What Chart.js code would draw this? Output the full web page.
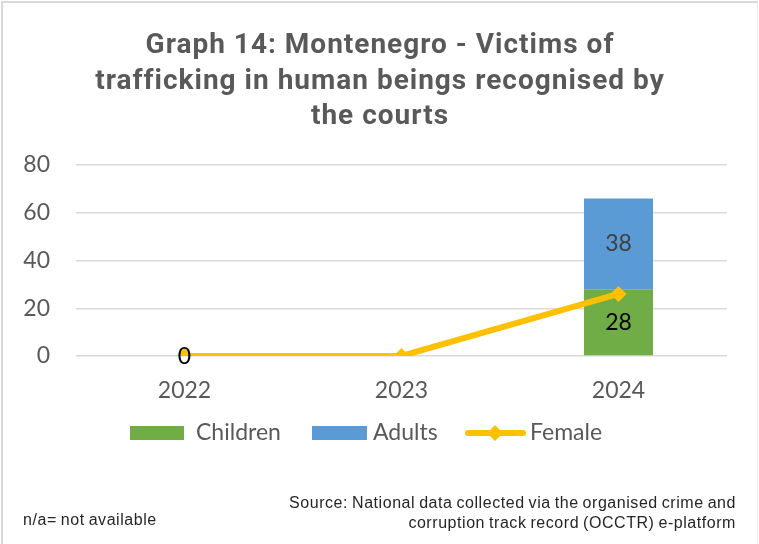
<!DOCTYPE html>
<html>
<head>
<meta charset="utf-8">
<script src="https://cdn.jsdelivr.net/npm/chart.js@4.4.1/dist/chart.umd.min.js"></script>
<style>
  html, body { margin: 0; padding: 0; background: #fff; }
  #wrap { position: relative; width: 759px; height: 544px; overflow: hidden; }
  #frame { position: absolute; left: 1px; top: 1px; width: 757px; height: 560px;
           border-left: 2px solid #d9d9d9; border-top: 2px solid #d9d9d9; border-right: 1px solid #ececec;
           box-sizing: border-box; pointer-events: none; }
  canvas { position: absolute; left: 0; top: 0; }
  .note { position: absolute; font-family: "Liberation Sans", Arial, sans-serif;
          font-size: 16px; letter-spacing: 0.55px; word-spacing: -1px; color: #262626; line-height: 20px; white-space: nowrap; }
</style>
</head>
<body>
<div id="wrap">
  <canvas id="c" width="759" height="544"></canvas>
  <div id="frame"></div>
  <div class="note" style="left:23px; top:510px;">n/a= not available</div>
  <div class="note" style="right:23px; top:493px; text-align:right;">Source: National data collected via the organised crime and<br>corruption track record (OCCTR) e-platform</div>
</div>
<script>
const titleLines = ["Graph 14: Montenegro - Victims of", "trafficking in human beings recognised by", "the courts"];
const years = ["2022", "2023", "2024"];
const children = [0, 0, 28];
const adults = [0, 0, 38];
const female = [0, 0, 26];
const yTicks = [0, 20, 40, 60, 80];
const femaleLabelShown = [true, false, false];

const textGray = "#595959";
const tickFont = "Lato, 'Open Sans', sans-serif";

const titlePlugin = {
  id: "titleText",
  afterDraw(chart) {
    const ctx = chart.ctx;
    ctx.save();
    ctx.font = "bold 28px Roboto, sans-serif";
    ctx.letterSpacing = "1px";
    ctx.fillStyle = textGray;
    ctx.textAlign = "center";
    ctx.textBaseline = "middle";
    const ys = [46, 82, 117];
    titleLines.forEach((t, i) => ctx.fillText(t, 380, ys[i]));
    ctx.restore();
  }
};

const labelPlugin = {
  id: "valueLabels",
  afterDatasetsDraw(chart) {
    const ctx = chart.ctx;
    ctx.save();
    ctx.font = "23px " + tickFont;
    ctx.textAlign = "center";
    ctx.textBaseline = "middle";
    [0, 1].forEach(di => {
      const meta = chart.getDatasetMeta(di);
      const vals = chart.data.datasets[di].data;
      meta.data.forEach((el, i) => {
        if (vals[i] > 0) {
          const cy = (el.y + el.base) / 2;
          ctx.fillStyle = di === 0 ? "#000000" : "#404040";
          ctx.fillText(String(vals[i]), el.x, cy);
        }
      });
    });
    const lm = chart.getDatasetMeta(2);
    lm.data.forEach((el, i) => {
      if (femaleLabelShown[i]) {
        ctx.fillStyle = "#000000";
        ctx.fillText(String(female[i]), el.x, el.y + 1);
      }
    });
    ctx.restore();
  }
};

const legendPlugin = {
  id: "customLegend",
  afterDraw(chart) {
    const ctx = chart.ctx;
    const ds = chart.data.datasets;
    const y = 433;
    ctx.save();
    ctx.font = "23px " + tickFont;
    ctx.textBaseline = "middle";
    ctx.textAlign = "left";
    ctx.fillStyle = ds[0].backgroundColor;
    ctx.fillRect(130, y - 7, 54, 14);
    ctx.fillStyle = textGray;
    ctx.fillText(ds[0].label, 196, y);
    ctx.fillStyle = ds[1].backgroundColor;
    ctx.fillRect(312, y - 7, 55, 14);
    ctx.fillStyle = textGray;
    ctx.fillText(ds[1].label, 373, y);
    ctx.strokeStyle = ds[2].borderColor;
    ctx.lineWidth = 6;
    ctx.lineCap = "round";
    ctx.beginPath();
    ctx.moveTo(468, y); ctx.lineTo(523, y);
    ctx.stroke();
    ctx.fillStyle = ds[2].borderColor;
    ctx.beginPath();
    ctx.moveTo(495, y - 8); ctx.lineTo(503, y); ctx.lineTo(495, y + 8); ctx.lineTo(487, y);
    ctx.closePath(); ctx.fill();
    ctx.fillStyle = textGray;
    ctx.fillText(ds[2].label, 530, y);
    ctx.restore();
  }
};

new Chart(document.getElementById("c"), {
  data: {
    labels: years,
    datasets: [
      { type: "bar", label: "Children", data: children, backgroundColor: "#70AD47", stack: "s", order: 2,
        categoryPercentage: 1, barPercentage: 0.318 },
      { type: "bar", label: "Adults", data: adults, backgroundColor: "#5B9BD5", stack: "s", order: 2,
        categoryPercentage: 1, barPercentage: 0.318 },
      { type: "line", label: "Female", data: female, borderColor: "#FFC000", backgroundColor: "#FFC000",
        borderWidth: 6, pointStyle: "rectRot", pointRadius: 8, pointHoverRadius: 8,
        pointBackgroundColor: "#FFC000", pointBorderColor: "#FFC000", pointBorderWidth: 0, order: 1, tension: 0 }
    ]
  },
  options: {
    responsive: false,
    animation: false,
    devicePixelRatio: 1,
    layout: { padding: { left: 0, right: 32, top: 165, bottom: 128 } },
    plugins: {
      legend: { display: false },
      tooltip: { enabled: false },
      title: { display: false }
    },
    scales: {
      x: {
        stacked: true,
        grid: { display: false, drawTicks: false },
        border: { display: false },
        ticks: { color: textGray, font: { family: tickFont, size: 23 }, padding: 21 },
        afterFit(s) { s.height = 60; }
      },
      y: {
        stacked: true,
        min: 0, max: 80,
        afterBuildTicks(s) { s.ticks = yTicks.map(v => ({ value: v })); },
        grid: { color: "#D9D9D9", lineWidth: 1.5, drawTicks: false },
        border: { display: false },
        ticks: { color: textGray, font: { family: tickFont, size: 23 }, padding: 26 },
        afterFit(s) { s.width = 76; }
      }
    }
  },
  plugins: [labelPlugin, legendPlugin, titlePlugin]
});
</script>
</body>
</html>
